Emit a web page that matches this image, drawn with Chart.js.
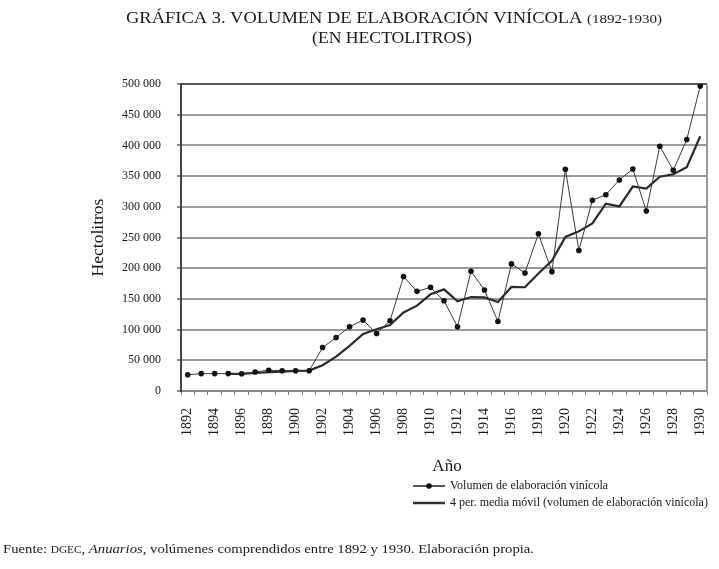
<!DOCTYPE html>
<html><head><meta charset="utf-8">
<script src="https://cdn.jsdelivr.net/npm/chart.js@4/dist/chart.umd.min.js"></script>
<style>html,body{margin:0;padding:0;background:#fff;}#wrap{width:719px;height:569px;position:relative;}</style>
</head><body><div id="wrap"><canvas id="c" width="719" height="569"></canvas></div>
<script>
const years = ['1892','1893','1894','1895','1896','1897','1898','1899','1900','1901',
  '1902','1903','1904','1905','1906','1907','1908','1909','1910','1911',
  '1912','1913','1914','1915','1916','1917','1918','1919','1920','1921',
  '1922','1923','1924','1925','1926','1927','1928','1929','1930'];
const volumen = [26500, 28300, 28300, 28300, 28000, 31000, 33800, 33000, 33000, 33000,
  70800, 87100, 104600, 115500, 93700, 114400, 186300, 162300, 168800, 147000,
  104600, 195000, 164500, 113300, 207000, 192300, 256000, 194400, 361100, 228800,
  310500, 319700, 343700, 361600, 293000, 398700, 359500, 409600, 496700];
const mediaMovil = [null, null, null, 28000, 28000, 29500, 30500, 31500, 32700, 33200,
  42000, 56000, 73500, 93000, 100500, 107500, 128000, 139000, 157500, 165500,
  146000, 153000, 152500, 145000, 169500, 169000, 191500, 212000, 251000, 260000,
  273000, 305000, 300600, 333000, 329500, 349000, 353000, 364500, 415000];
const yMin = 0, yMax = 500000, yStep = 50000;
const titleMain = 'GRÁFICA 3. VOLUMEN DE ELABORACIÓN VINÍCOLA ';
const titleYears = '(1892-1930)';
const titleLine2 = '(EN HECTOLITROS)';
const yTitle = 'Hectolitros';
const xTitle = 'Año';
const seriesNames = ['Volumen de elaboración vinícola', '4 per. media móvil (volumen de elaboración vinícola)'];

const SERIF = "'Liberation Serif','DejaVu Serif',serif";

function fmt(v){ return String(v).replace(/\B(?=(\d{3})+(?!\d))/g, ' '); }

// draw a list of [text, font] segments starting at x, stretched horizontally to a target width
function drawStretched(ctx, segs, x, y, targetW){
  let w = 0;
  for (const [t, f] of segs){ ctx.font = f; w += ctx.measureText(t).width; }
  const sx = targetW / w;
  ctx.save();
  ctx.translate(x, y); ctx.scale(sx, 1);
  let cx = 0;
  ctx.textAlign = 'left';
  for (const [t, f] of segs){ ctx.font = f; ctx.fillText(t, cx, 0); cx += ctx.measureText(t).width; }
  ctx.restore();
}

const textPlugin = {
  id: 'texts',
  afterDraw(chart){
    const ctx = chart.ctx, ca = chart.chartArea;
    ctx.save();
    // right border
    ctx.strokeStyle = '#9a9a9a'; ctx.lineWidth = 2;
    ctx.beginPath(); ctx.moveTo(ca.right, ca.top); ctx.lineTo(ca.right, ca.bottom); ctx.stroke();
    ctx.fillStyle = '#1a1a1a';
    ctx.textBaseline = 'alphabetic';
    // title
    drawStretched(ctx, [[titleMain, '16px ' + SERIF], [titleYears, '13px ' + SERIF]], 126, 23, 536);
    drawStretched(ctx, [[titleLine2, '16px ' + SERIF]], 312, 43, 160);
    // axis titles
    ctx.font = '17px ' + SERIF; ctx.textAlign = 'center';
    ctx.fillText(xTitle, (ca.left + ca.right) / 2 + 3, 471);
    ctx.save();
    ctx.translate(103, (ca.top + ca.bottom) / 2);
    ctx.rotate(-Math.PI / 2);
    ctx.font = '17.5px ' + SERIF;
    ctx.fillText(yTitle, 0, 0);
    ctx.restore();
    // legend
    const ds = chart.data.datasets;
    ctx.textAlign = 'left'; ctx.textBaseline = 'middle';
    ctx.font = '12px ' + SERIF;
    ctx.strokeStyle = '#555'; ctx.lineWidth = 2;
    ctx.beginPath(); ctx.moveTo(413, 486); ctx.lineTo(445, 486); ctx.stroke();
    ctx.fillStyle = '#111';
    ctx.beginPath(); ctx.arc(429, 486, 2.8, 0, Math.PI * 2); ctx.fill();
    ctx.fillStyle = '#1a1a1a';
    ctx.fillText(ds[0].label, 450, 486);
    ctx.strokeStyle = '#333'; ctx.lineWidth = 2.5;
    ctx.beginPath(); ctx.moveTo(413, 503); ctx.lineTo(445, 503); ctx.stroke();
    ctx.fillText(ds[1].label, 450, 503);
    // footer
    ctx.textBaseline = 'alphabetic';
    drawStretched(ctx, [
      ['Fuente: ', '13px ' + SERIF],
      ['DGEC', '10px ' + SERIF],
      [', ', '13px ' + SERIF],
      ['Anuarios', 'italic 13px ' + SERIF],
      [', volúmenes comprendidos entre 1892 y 1930. Elaboración propia.', '13px ' + SERIF]
    ], 3, 553, 531);
    ctx.restore();
  }
};

new Chart(document.getElementById('c'), {
  type: 'line',
  data: {
    labels: years,
    datasets: [
      { label: seriesNames[0], data: volumen, borderColor: '#3a3a3a', borderWidth: 1,
        pointRadius: 2.8, pointBackgroundColor: '#111', pointBorderColor: '#111', pointBorderWidth: 0, tension: 0 },
      { label: seriesNames[1], data: mediaMovil, borderColor: '#2b2b2b', borderWidth: 2.2,
        pointRadius: 0, tension: 0, spanGaps: false }
    ]
  },
  options: {
    responsive: false,
    animation: false,
    devicePixelRatio: 1,
    layout: { padding: { top: 84, left: 81, right: 12, bottom: 128 } },
    plugins: { legend: { display: false }, title: { display: false }, tooltip: { enabled: false } },
    scales: {
      x: {
        type: 'category', offset: true,
        afterFit(s){ s.height = 50; s.paddingLeft = 0; s.paddingRight = 0; },
        grid: { offset: true, drawOnChartArea: false, drawTicks: true, tickLength: 4, color: '#777', lineWidth: 1 },
        border: { display: true, color: '#8a8a8a', width: 2 },
        ticks: { autoSkip: false, maxRotation: 90, minRotation: 90, padding: 13, color: '#1a1a1a',
          font: { family: SERIF, size: 14 },
          callback(v, i){ return i % 2 === 0 ? years[i] : ''; } }
      },
      y: {
        min: yMin, max: yMax,
        afterFit(s){ s.width = 100; s.paddingTop = 0; s.paddingBottom = 0; },
        grid: { color(c){ return c.tick && c.tick.value === yMax ? '#555' : '#9a9a9a'; }, lineWidth: 2, tickLength: 4,
          tickColor: '#8a8a8a' },
        border: { display: true, color: '#444', width: 2 },
        ticks: { stepSize: yStep, padding: 16, color: '#1a1a1a', font: { family: SERIF, size: 12 },
          callback(v){ return fmt(v); } }
      }
    }
  },
  plugins: [textPlugin]
});
</script>
</body></html>
